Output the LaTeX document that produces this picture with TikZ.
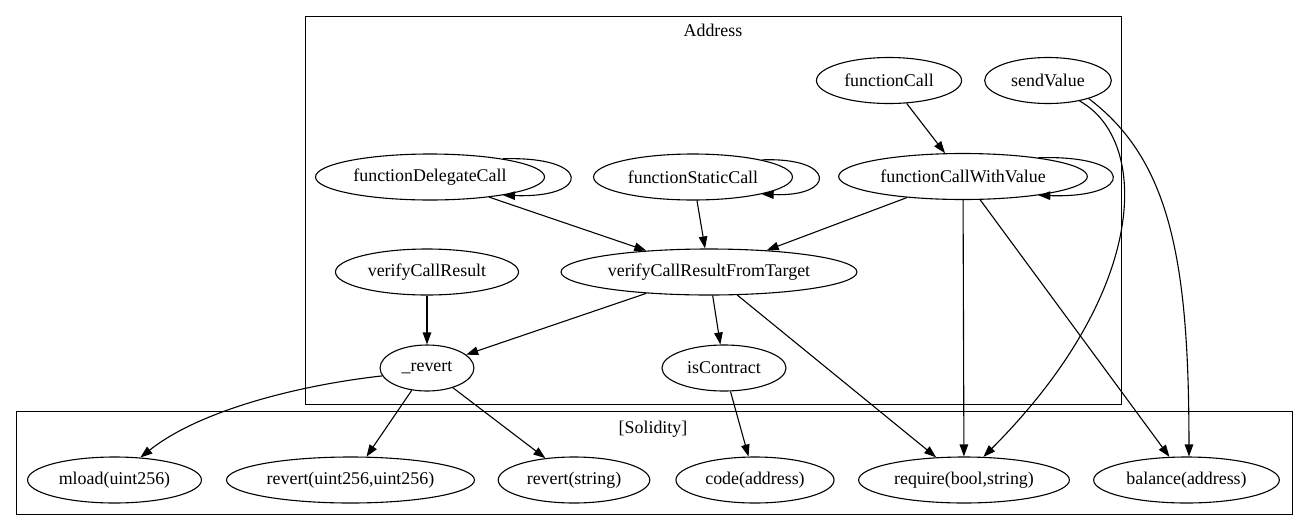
\documentclass[tikz,border=0pt]{standalone}
\usepackage{fontspec}
\setmainfont{Liberation Serif}
\usetikzlibrary{arrows.meta,shapes.geometric}
\begin{document}
\begin{tikzpicture}[x=1pt,y=-1pt,
  fn/.style={draw, ellipse, line width=1.1pt, inner sep=0pt,
             minimum height=46pt, minimum width=#1, font=\fontsize{17.9}{21}\selectfont},
  edge/.style={line width=1.1pt, -{Triangle[length=12pt,width=8.5pt]}},
  cluster/.style={draw, line width=1.2pt, rectangle, inner sep=0pt, anchor=north west},
  lbl/.style={font=\fontsize{17.9}{21}\selectfont}]
\useasboundingbox (0,0) rectangle (1307,531);

% clusters
\node[cluster, minimum width=815.5pt, minimum height=388pt] (addr) at (305,16) {};
\node[lbl] (addrlbl) at (713,30) {Address};
\node[cluster, minimum width=1276.5pt, minimum height=103pt] (sol) at (15.5,411) {};
\node[lbl] (sollbl) at (653,429.5) {[Solidity]};

% Address functions
\node[fn=145.1pt] (fc)   at (889,80.5)  {functionCall};
\node[fn=126.7pt] (sv)   at (1048,80.5) {sendValue};
\node[fn=229pt]   (fdc)  at (430,177)   {functionDelegateCall};
\node[fn=198.9pt] (fsc)  at (693,177)   {functionStaticCall};
\node[fn=248.7pt] (fcwv) at (963,176.5) {functionCallWithValue};
\node[fn=183.1pt] (vcr)  at (427,272)   {verifyCallResult};
\node[fn=295.9pt] (vcrt) at (709,272)   {verifyCallResultFromTarget};
\node[fn=93.9pt]  (rev)  at (427,368)   {\_revert};
\node[fn=124.1pt] (isc)  at (724,368)   {isContract};

% Solidity builtins
\node[fn=173.9pt] (ml)   at (114.5,480)  {mload(uint256)};
\node[fn=248pt]   (rv2)  at (350.5,480)  {revert(uint256,uint256)};
\node[fn=151.6pt] (rvs)  at (574,480)    {revert(string)};
\node[fn=158.1pt] (code) at (755,480)    {code(address)};
\node[fn=210.8pt] (req)  at (964,480)    {require(bool,string)};
\node[fn=185.7pt] (bal)  at (1186.5,480) {balance(address)};

% self calls
\draw[edge] (fdc.14)  .. controls +(89,-3) and +(89,3) .. (fdc.-14);
\draw[edge] (fsc.14)  .. controls +(75,-3) and +(75,3) .. (fsc.-14);
\draw[edge] (fcwv.14) .. controls +(98,-3) and +(98,3) .. (fcwv.-14);

% calls
\draw[edge] (fc) -- (fcwv);
\draw[edge] (fdc) -- (vcrt);
\draw[edge] (fsc) -- (vcrt);
\draw[edge] (fcwv) -- (vcrt);
\draw[edge] (fcwv) -- (req);
\draw[edge] (fcwv) -- (bal);
\draw[edge] (sv.-33) .. controls (1150,140) and (1150,290) .. (req.50);
\draw[edge] (sv.-24) .. controls (1170,160) and (1189,260) .. (bal.84);
\draw[edge] (vcr) -- (rev);
\draw[edge] (vcrt) -- (rev);
\draw[edge] (vcrt) -- (isc);
\draw[edge] (vcrt) -- (req);
\draw[edge] (rev.190) .. controls (300,385) and (200,410) .. (ml.41);
\draw[edge] (rev) -- (rv2);
\draw[edge] (rev) -- (rvs);
\draw[edge] (isc) -- (code);
\end{tikzpicture}
\end{document}
